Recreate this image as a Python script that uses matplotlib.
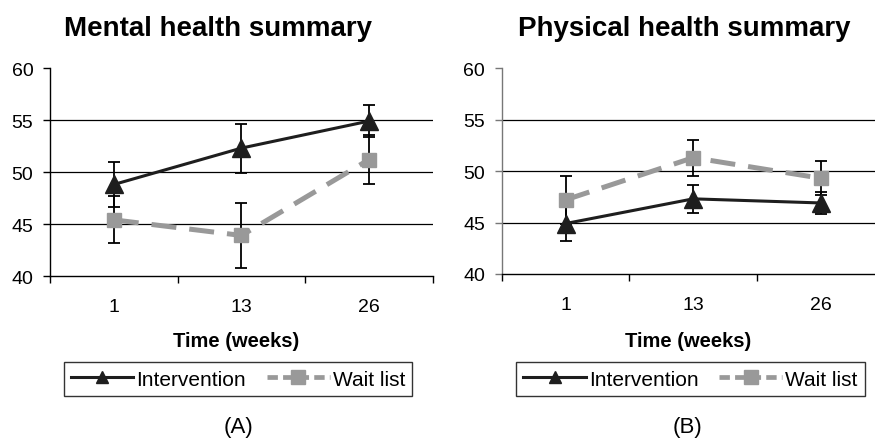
import matplotlib

matplotlib.use("Agg")

import matplotlib.pyplot as plt
from matplotlib.lines import Line2D

plt.rcParams["font.family"] = ["Liberation Sans", "DejaVu Sans"]

WEEKS = ["1", "13", "26"]

MENTAL_INTERVENTION = [48.8, 52.3, 54.9]
MENTAL_INTERVENTION_ERR = [2.2, 2.35, 1.5]
MENTAL_WAIT_LIST = [45.4, 43.9, 51.2]
MENTAL_WAIT_LIST_ERR = [2.25, 3.15, 2.35]

PHYSICAL_INTERVENTION = [44.9, 47.3, 46.9]
PHYSICAL_INTERVENTION_ERR = [1.7, 1.35, 1.1]
PHYSICAL_WAIT_LIST = [47.2, 51.3, 49.3]
PHYSICAL_WAIT_LIST_ERR = [2.35, 1.75, 1.65]

Y_TICKS = [40, 45, 50, 55, 60]
GRID_LEVELS = [45, 50, 55]

DARK = "#1e1e1e"
GREY = "#999999"


def plot_panel(axis, intervention, intervention_err, wait_list, wait_list_err, spine_color):
    positions = range(len(WEEKS))

    for level in GRID_LEVELS:
        axis.axhline(level, color="black", linewidth=0.9, zorder=1)

    axis.errorbar(
        positions, wait_list, yerr=wait_list_err, fmt="none",
        ecolor="black", elinewidth=1.3, capsize=4.5, capthick=1.3, zorder=2,
    )
    axis.errorbar(
        positions, intervention, yerr=intervention_err, fmt="none",
        ecolor="black", elinewidth=1.3, capsize=4.5, capthick=1.3, zorder=2,
    )
    axis.plot(
        positions, wait_list, color=GREY, linewidth=3.6, dashes=(5, 2.6),
        marker="s", markersize=10, markerfacecolor=GREY, markeredgecolor=GREY, zorder=3,
    )
    axis.plot(
        positions, intervention, color=DARK, linewidth=2.2,
        marker="^", markersize=13, markerfacecolor=DARK, markeredgecolor=DARK, zorder=4,
    )

    axis.set_xlim(-0.5, len(WEEKS) - 0.5)
    axis.set_ylim(40, 60)
    axis.set_yticks(Y_TICKS)
    axis.set_xticks(list(positions))
    axis.set_xticklabels(WEEKS)
    axis.set_xticks([p - 0.5 for p in range(len(WEEKS) + 1)], minor=True)
    axis.tick_params(axis="x", which="major", length=0, labelsize=14, pad=16)
    axis.tick_params(axis="x", which="minor", length=5, width=1.0, direction="out")
    axis.tick_params(axis="y", length=5, width=1.0, labelsize=14, pad=7,
                     color=spine_color, labelcolor="black")

    for side in ("top", "right"):
        axis.spines[side].set_visible(False)
    axis.spines["left"].set_color(spine_color)
    axis.spines["bottom"].set_color("black")
    axis.spines["left"].set_linewidth(1.0)
    axis.spines["bottom"].set_linewidth(1.0)


def add_legend(figure, center_x):
    handles = [
        Line2D([], [], color=DARK, linewidth=2.2, marker="^", markersize=9,
               markerfacecolor=DARK, markeredgecolor=DARK),
        Line2D([], [], color=GREY, linewidth=3.4, dashes=(2.2, 1.1), marker="s", markersize=10,
               markerfacecolor=GREY, markeredgecolor=GREY),
    ]
    legend = figure.legend(
        handles, ["Intervention", "Wait list"], loc="center",
        bbox_to_anchor=(center_x, 0.134), ncol=2, fontsize=15,
        frameon=True, fancybox=False, edgecolor="black", handlelength=3.0,
        handletextpad=0.15, columnspacing=1.0, borderpad=0.35, borderaxespad=0,
    )
    legend.get_frame().set_linewidth(1.0)


def main():
    figure = plt.figure(figsize=(8.75, 4.39), dpi=100)
    left_axis = figure.add_axes([0.0571, 0.369, 0.4377, 0.4738])
    right_axis = figure.add_axes([0.5734, 0.3736, 0.4377, 0.469])

    plot_panel(left_axis, MENTAL_INTERVENTION, MENTAL_INTERVENTION_ERR,
               MENTAL_WAIT_LIST, MENTAL_WAIT_LIST_ERR, "black")
    plot_panel(right_axis, PHYSICAL_INTERVENTION, PHYSICAL_INTERVENTION_ERR,
               PHYSICAL_WAIT_LIST, PHYSICAL_WAIT_LIST_ERR, "#777777")

    figure.text(0.249, 0.935, "Mental health summary", fontsize=20, fontweight="bold",
                ha="center", va="center")
    figure.text(0.782, 0.935, "Physical health summary", fontsize=20, fontweight="bold",
                ha="center", va="center")

    figure.text(0.270, 0.221, "Time (weeks)", fontsize=14.5, fontweight="bold",
                ha="center", va="center")
    figure.text(0.786, 0.221, "Time (weeks)", fontsize=14.5, fontweight="bold",
                ha="center", va="center")

    add_legend(figure, 0.272)
    add_legend(figure, 0.789)

    figure.text(0.272, 0.027, "(A)", fontsize=16, ha="center", va="center")
    figure.text(0.786, 0.027, "(B)", fontsize=16, ha="center", va="center")

    figure.savefig("out.png", dpi=100)
    plt.close(figure)


if __name__ == "__main__":
    main()
